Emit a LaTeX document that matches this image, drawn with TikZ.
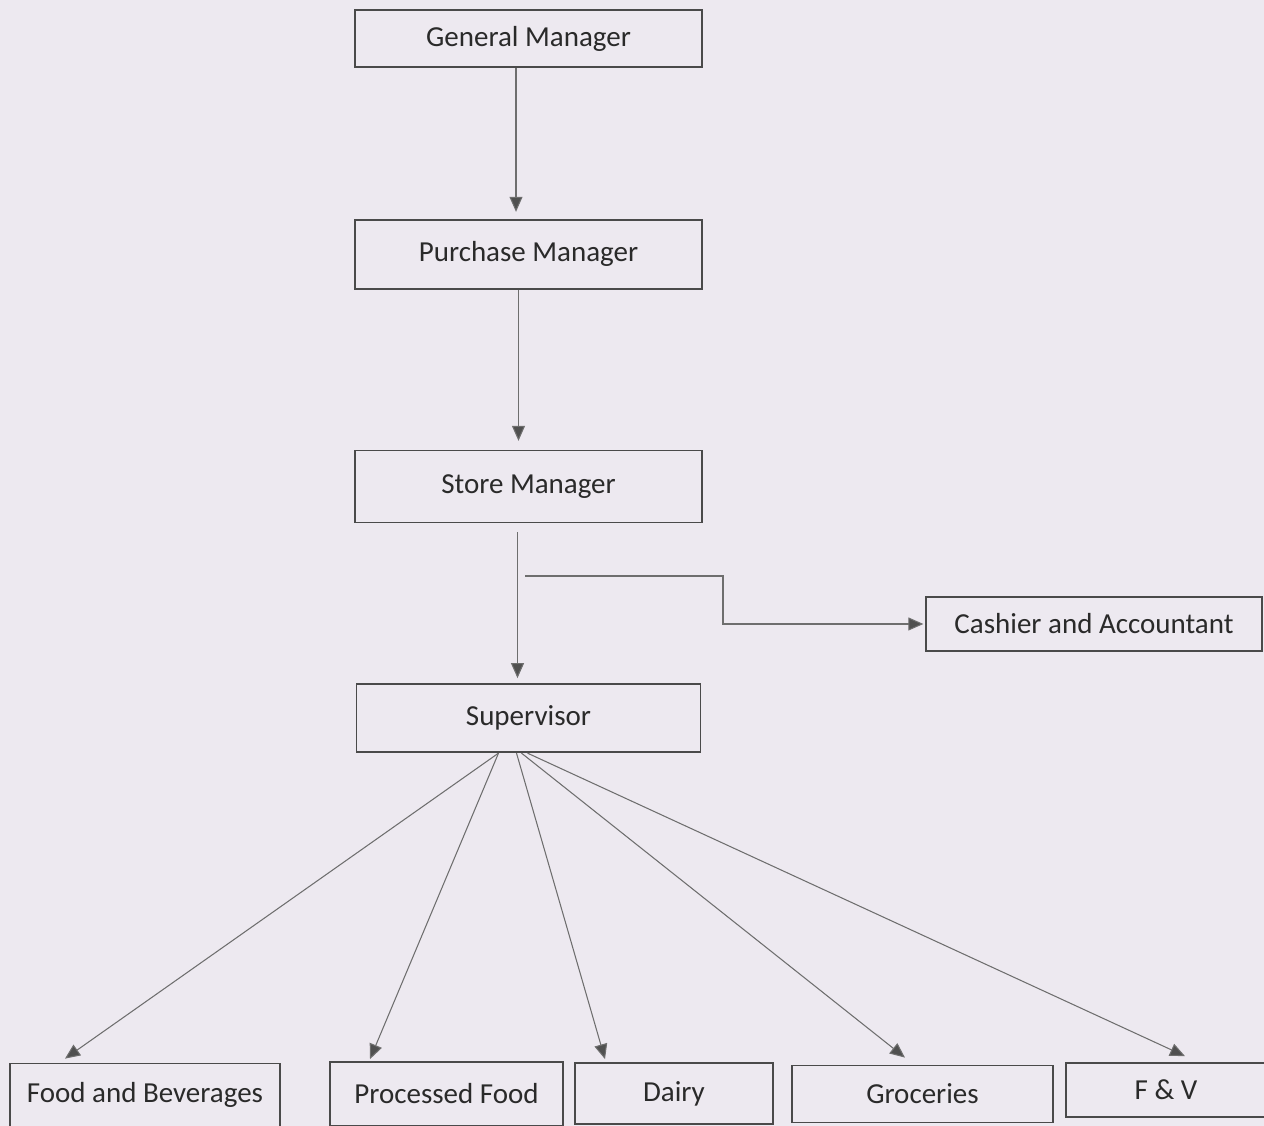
\documentclass[tikz,border=0pt]{standalone}
\usepackage{fontspec}
\setmainfont{Carlito}
\usepackage{xcolor}
\definecolor{paper}{HTML}{EDE9F0}
\definecolor{boxline}{HTML}{4A4A4A}
\definecolor{linkgray}{HTML}{6E6E6E}
\definecolor{tipgray}{HTML}{505050}
\definecolor{inkgray}{HTML}{2A2A2A}
\usepackage{tikz}
\usetikzlibrary{positioning, arrows.meta, calc}
\tikzset{
  >={Triangle[length=3mm, width=2.6mm, fill=tipgray]},
  every node/.style={font=\fontsize{16.5}{19}\selectfont, text=inkgray},
  rolebox/.style={
    rectangle, draw=boxline, line width=1pt,
    minimum width=6.94cm, minimum height=1.38cm, align=center,
    inner sep=2pt
  },
  deptbox/.style={
    rectangle, draw=boxline, line width=1pt,
    minimum height=1.26cm, align=center, inner sep=2pt
  },
  linkarrow/.style={->, linkgray, line width=0.6pt}
}

\begin{document}
\begin{tikzpicture}[node distance=3.24cm]

% Page
\useasboundingbox (0,0) rectangle (25.28,22.52);
\fill[paper] (0,0) rectangle (25.28,22.52);

% Management chain
\node[rolebox, minimum height=1.14cm] (gm) at (10.57,21.75) {General Manager};
\node[rolebox, below=3.02cm of gm] (pm) {Purchase Manager};
\node[rolebox, below=3.2cm of pm, minimum height=1.44cm] (sm) {Store Manager};
\node[rolebox, below=3.2cm of sm, minimum width=6.88cm, minimum height=1.36cm] (sup) {Supervisor};

% Side office
\node[rolebox, minimum width=6.72cm, minimum height=1.08cm] (cash) at (21.88,10.04)
  {Cashier and Accountant};
\coordinate (tap) at (10.5,11.0);

% Departments
\node[deptbox, minimum width=5.4cm] (fb) at (2.9,0.62) {Food and Beverages};
\node[deptbox, minimum width=4.66cm, minimum height=1.28cm] (pf) at (8.93,0.64) {Processed Food};
\node[deptbox, minimum width=3.96cm, minimum height=1.22cm] (dairy) at (13.48,0.65) {Dairy};
\node[deptbox, minimum width=5.22cm, minimum height=1.14cm] (groc) at (18.45,0.64) {Groceries};
\node[deptbox, minimum width=4.0cm, minimum height=1.08cm] (fv) at (23.32,0.72) {F \& V};

% Edges - chain
\draw[linkarrow, shorten >=4pt] ([xshift=-0.25cm] gm.south) -- ([xshift=-0.25cm] pm.north);
\draw[linkarrow, shorten >=5pt] ([xshift=-0.2cm] pm.south) -- ([xshift=-0.2cm] sm.north);
\draw[linkarrow, shorten <=0.18cm, shorten >=3pt] ([xshift=-0.22cm] sm.south) -- ([xshift=-0.22cm] sup.north);

% Edge - side office
\draw[linkarrow, shorten >=1pt] (tap) -- ++(3.96,0) |- (cash.west);

% Edges - departments
\draw[linkarrow] ([xshift=-0.6cm] sup.south) -- ([xshift=-1.6cm, yshift=0.08cm] fb.north);
\draw[linkarrow] ([xshift=-0.6cm] sup.south) -- ([xshift=-1.53cm, yshift=0.04cm] pf.north);
\draw[linkarrow] ([xshift=-0.24cm] sup.south) -- ([xshift=-1.38cm, yshift=0.06cm] dairy.north);
\draw[linkarrow] ([xshift=-0.14cm] sup.south) -- ([xshift=-0.35cm, yshift=0.14cm] groc.north);
\draw[linkarrow] ([xshift=-0.02cm] sup.south) -- ([xshift=0.38cm, yshift=0.12cm] fv.north);

\end{tikzpicture}
\end{document}
